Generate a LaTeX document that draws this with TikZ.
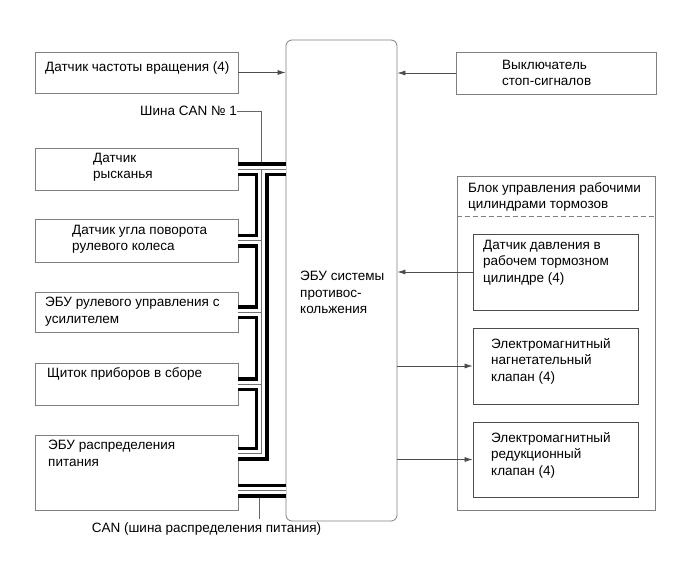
\documentclass[tikz,border=0pt]{standalone}
\usepackage{fontspec}
\setmainfont{Liberation Sans}
\usetikzlibrary{arrows.meta,calc}
\tikzset{
  box/.style={draw=black!50,line width=.8pt,rectangle,inner sep=0pt},
  inbox/.style={box,draw=black!70},
  txt/.style={anchor=north west,inner sep=0pt,align=left,font=\fontsize{13.5}{16.5}\selectfont},
  sig/.style={draw=black!70,line width=.7pt,-{Latex[length=8pt,width=5pt]}},
  tap/.style={draw=black!60,line width=.8pt},
}
\newcommand\boxtext[4]{\node(#1)[txt] at (#2,#3) {#4};}

\begin{document}
\begin{tikzpicture}[x=1pt,y=-1pt]
    \useasboundingbox (0,0) rectangle (690,562);
    % left column
    \node(b1)[box,minimum width=203,minimum height=41] at (136.5,72.5) {};
    \node(b2)[box,minimum width=203,minimum height=42] at (136.5,169) {};
    \node(b3)[box,minimum width=203,minimum height=43] at (136.5,240.5) {};
    \node(b4)[box,minimum width=203,minimum height=40] at (136.5,312) {};
    \node(b5)[box,minimum width=203,minimum height=42] at (136.5,384) {};
    \node(b6)[box,minimum width=203,minimum height=75] at (136.5,472.5) {};
    % ECU
    \node(ecu)[box,rounded corners=6pt,minimum width=111,minimum height=481] at (341.5,280.5) {};
    % right column
    \node(sw)[box,minimum width=200,minimum height=42] at (556,73) {};
    \node(blk)[box,minimum width=198,minimum height=334] at (556,343) {};
    \draw[black!50,line width=.8pt,dash pattern=on 5pt off 3pt]
        ($(blk.north west)+(0,41)$) -- ($(blk.north east)+(0,41)$);
    \node(ps)[inbox,minimum width=165,minimum height=76] at (555.5,272) {};
    \node(v1)[inbox,minimum width=165,minimum height=76] at (555.5,366) {};
    \node(v2)[inbox,minimum width=165,minimum height=75] at (555.5,459.5) {};

    % CAN bus
    \coordinate (trunk) at (261.5,0);
    \coordinate (b6in) at ($(b6.north east)+(0,19)$);
    \coordinate (b6out) at ($(b6.north east)+(0,56)$);
    \coordinate (canjb) at ($(b6out -| trunk)+(-2.5,0)$);
    \node(can1)[txt,anchor=east] at (237,111) {Шина CAN № 1};
    \node(canb)[txt,anchor=north] at (206.5,523) {CAN (шина распределения питания)};
    \draw[tap] (can1.east) -| (b2.east -| trunk);
    \draw[tap] (canjb) -- ($(canjb |- canb.north)+(0,-4)$);
    \foreach \lw/\col in {14/black,7/white,.7/black!55}{
        \draw[line width=\lw,\col] (b2.east) -- (b2.east -| ecu.west)
            (b2.east -| trunk) -- (b6in -| trunk) -- (b6in)
            (b3.east) -- (b3.east -| trunk)
            (b4.east) -- (b4.east -| trunk)
            (b5.east) -- (b5.east -| trunk)
            (b6out) -- (b6out -| ecu.west);
    }

    % signals
    \draw[sig] (b1.east) -- (b1.east -| ecu.west);
    \draw[sig] (sw.west) -- (sw.west -| ecu.east);
    \draw[sig] (ps.west) -- (ps.west -| ecu.east);
    \draw[sig] (v1.west -| ecu.east) -- (v1.west);
    \draw[sig] (v2.west -| ecu.east) -- (v2.west);

    % texts
    \boxtext{b1t}{45}{62}{Датчик частоты вращения (4)}
    \boxtext{b2t}{93}{153}{Датчик\\рысканья}
    \boxtext{b3t}{72}{225}{Датчик угла поворота\\рулевого колеса}
    \boxtext{b4t}{45}{297}{ЭБУ рулевого управления с\\усилителем}
    \boxtext{b5t}{47}{367}{Щиток приборов в сборе}
    \boxtext{b6t}{48}{440}{ЭБУ распределения\\питания}
    \boxtext{ecut}{300}{271}{ЭБУ системы\\противос-\\кольжения}
    \boxtext{swt}{502}{60}{Выключатель\\стоп-сигналов}
    \boxtext{blkt}{468}{182}{Блок управления рабочими\\цилиндрами тормозов}
    \boxtext{pst}{483}{240}{Датчик давления в\\рабочем тормозном\\цилиндре (4)}
    \boxtext{v1t}{491}{338}{Электромагнитный\\нагнетательный\\клапан (4)}
    \boxtext{v2t}{491}{432}{Электромагнитный\\редукционный\\клапан (4)}
\end{tikzpicture}
\end{document}
